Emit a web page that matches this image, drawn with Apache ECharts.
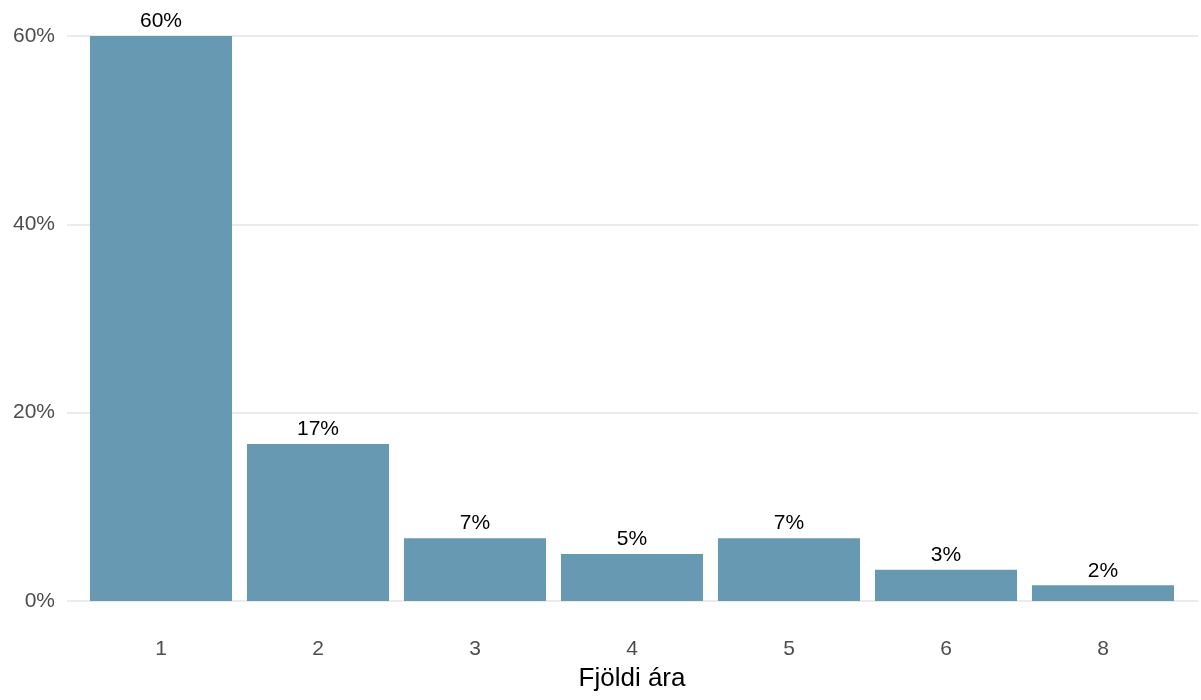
<!DOCTYPE html>
<html>
<head>
<meta charset="utf-8">
<script src="https://cdn.jsdelivr.net/npm/echarts@6/dist/echarts.min.js"></script>
<style>
  html, body { margin: 0; padding: 0; background: #fff; }
  #chart { width: 1201px; height: 700px; }
</style>
</head>
<body>
<div id="chart"></div>
<script>
// gögn lesin af myndinni
var categories = ['1', '2', '3', '4', '5', '6', '8'];
var shares = [60, 16.67, 6.67, 5, 6.67, 3.33, 1.67];
var shareLabels = ['60%', '17%', '7%', '5%', '7%', '3%', '2%'];
var yTicks = [0, 20, 40, 60];

var myChart = echarts.init(document.getElementById('chart'));
var fontFam = 'Liberation Sans, Arial, sans-serif';

var option = {
    animation: false,
    textStyle: { fontFamily: fontFam },
    grid: [
        // gridlínur yfir alla breiddina
        { left: 67, right: 3, top: 36, bottom: 99 },
        // súlurnar
        { left: 82.5, width: 1099, top: 36, bottom: 99 }
    ],
    xAxis: [
        { gridIndex: 0, type: 'value', show: false, min: 0, max: 1 },
        {
            gridIndex: 1,
            type: 'category',
            data: categories,
            axisLine: { show: false },
            axisTick: { show: false },
            axisLabel: { color: '#4d4d4d', fontSize: 21, margin: 38, fontFamily: fontFam },
            name: 'Fjöldi ára',
            nameLocation: 'middle',
            nameGap: 65,
            nameTextStyle: { color: '#000', fontSize: 26, fontFamily: fontFam, verticalAlign: 'top' }
        }
    ],
    yAxis: [
        {
            gridIndex: 0,
            type: 'value',
            min: yTicks[0],
            max: yTicks[yTicks.length - 1],
            interval: 20,
            axisLine: { show: false },
            axisTick: { show: false },
            axisLabel: {
                color: '#4d4d4d', fontSize: 21, margin: 12, fontFamily: fontFam,
                formatter: function (v) { return v + '%'; }
            },
            splitLine: { lineStyle: { color: '#ebebeb', width: 2 } }
        },
        {
            gridIndex: 1,
            type: 'value',
            min: yTicks[0],
            max: yTicks[yTicks.length - 1],
            show: false,
            splitLine: { show: false }
        }
    ],
    series: [{
        type: 'bar',
        xAxisIndex: 1,
        yAxisIndex: 1,
        data: shares,
        barCategoryGap: '9.5%',
        itemStyle: { color: '#6899b2' },
        label: {
            show: true,
            position: 'top',
            distance: 4,
            color: '#000',
            fontSize: 21,
            fontFamily: fontFam,
            formatter: function (p) { return shareLabels[p.dataIndex]; }
        }
    }]
};
myChart.setOption(option);
</script>
</body>
</html>
